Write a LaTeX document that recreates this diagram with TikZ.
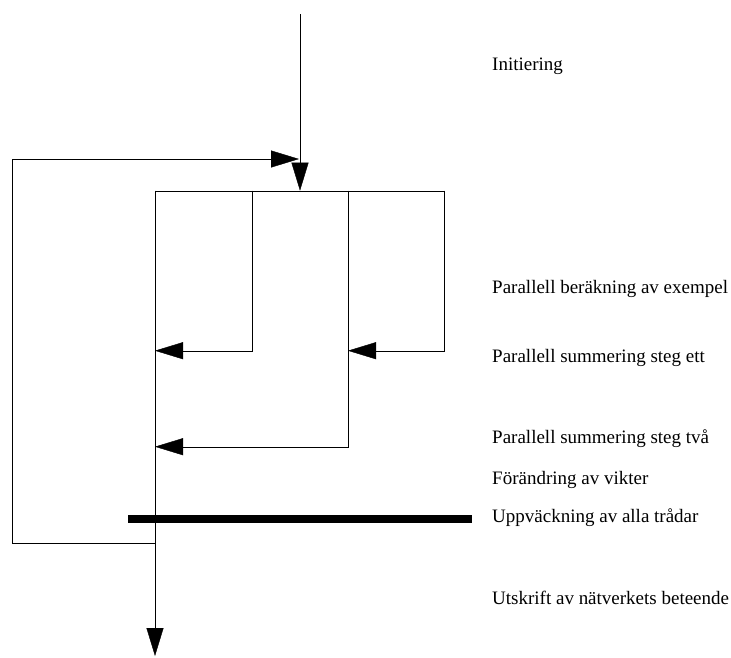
\documentclass[tikz,border=0pt]{standalone}
\usepackage{fontspec}
\setmainfont{Liberation Serif}
\usetikzlibrary{arrows.meta}
\begin{document}
\begin{tikzpicture}[x=1pt, y=-1pt, font=\fontsize{19}{22}\selectfont, line join=miter, >={Triangle[length=28pt,width=17pt]}]
			\useasboundingbox (0,0) rectangle (731,657);
			\tikzset{lbl/.style={anchor=base west, inner sep=0pt}}
			\path 
			(300,14) coordinate (S)
			(300,190.7) coordinate (T)
			(155,190.7) coordinate (A)
			(252,190.7) coordinate (B)
			(348,190.7) coordinate (C)
			(444,190.7) coordinate (D)
			(252,350.7) coordinate (B1)
			(155,350.7) coordinate (A1)
			(348,350.7) coordinate (C1)
			(444,350.7) coordinate (D1)
			(348,446.7) coordinate (C2)
			(155,446.7) coordinate (A2)
			(128,519) coordinate (W1)
			(472,519) coordinate (W2)
			(155,543) coordinate (L)
			(12,543) coordinate (L1)
			(12,159) coordinate (L2)
			(299,159) coordinate (L3)
			(155,656) coordinate (E);
			\draw[->](S)--(T);
			\draw(A)--(D);
			\draw[->](A)--(E);
			\draw[->](B)--(B1)--(A1);
			\draw[->](C)--(C2)--(A2);
			\draw[->](D)--(D1)--(C1);
			\draw[->](L)--(L1)--(L2)--(L3);
			\draw[line width=8pt](W1)--(W2);
			\path
			(492,70) node[lbl] (init) {Initiering}
			(492,293) node[lbl] (ber) {Parallell beräkning av exempel}
			(492,362) node[lbl] (sum1) {Parallell summering steg ett}
			(492,443) node[lbl] (sum2) {Parallell summering steg två}
			(492,484) node[lbl] (vikt) {Förändring av vikter}
			(492,522) node[lbl] (vack) {Uppväckning av alla trådar}
			(492,604) node[lbl] (ut) {Utskrift av nätverkets beteende};
	\end{tikzpicture}
\end{document}
